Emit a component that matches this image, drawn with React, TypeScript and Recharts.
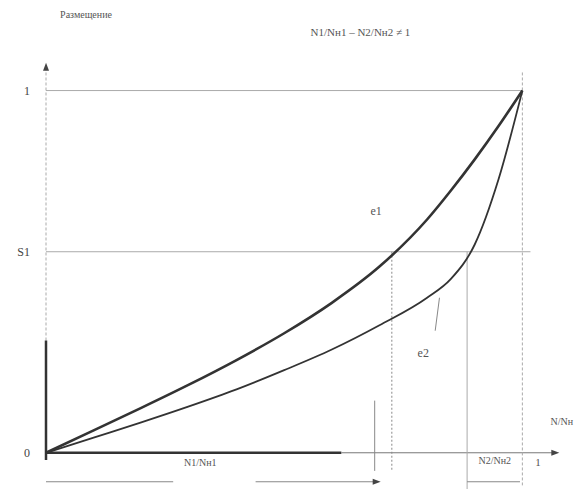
import {
  ComposedChart,
  Line,
  XAxis,
  YAxis,
  ReferenceLine,
  ReferenceDot,
} from "recharts";

// cumulative share (x) and the two curves
const shares = [0, 0.1, 0.2, 0.3, 0.4, 0.5, 0.6, 0.7, 0.8, 0.85, 0.9, 0.95, 1];
const e1Values = [0, 0.062, 0.124, 0.188, 0.256, 0.33, 0.414, 0.514, 0.644, 0.724, 0.81, 0.902, 1];
const e2Values = [0, 0.042, 0.084, 0.128, 0.175, 0.228, 0.285, 0.352, 0.428, 0.48, 0.575, 0.755, 1];

const yTicks = [0, 0.555, 1];
const yTickLabels = ["0", "S1", "1"];

const s1Level = 0.555;
const n1Share = 0.726; // where e1 reaches S1
const n2Share = 0.884; // where e2 reaches S1
const n1Mark = 0.69;

const data = shares.map((x, i) => ({ x, e1: e1Values[i], e2: e2Values[i] }));

const FONT = "'Liberation Serif', 'DejaVu Serif', serif";
const INK = "#333";
const GRID = "#aaa";

const textAt =
  (value: string, anchor: "start" | "middle" | "end" = "middle", size = 11) =>
  (props: any) => (
    <text
      x={props.cx}
      y={props.cy}
      textAnchor={anchor}
      dominantBaseline="middle"
      fontSize={size}
      fontFamily={FONT}
      fill="#555"
    >
      {value}
    </text>
  );

const arrow =
  (dir: "up" | "right" | "left") =>
  (props: any) => {
    const { cx, cy } = props;
    let pts = "";
    if (dir === "up") pts = `${cx},${cy - 6} ${cx - 3},${cy + 2} ${cx + 3},${cy + 2}`;
    if (dir === "right") pts = `${cx + 6},${cy} ${cx - 2},${cy - 3} ${cx - 2},${cy + 3}`;
    if (dir === "left") pts = `${cx - 6},${cy} ${cx + 2},${cy - 3} ${cx + 2},${cy + 3}`;
    return <polygon points={pts} fill="#444" />;
  };

const seg = (x1: number, y1: number, x2: number, y2: number) => [
  { x: x1, y: y1 },
  { x: x2, y: y2 },
];

export default function App() {
  return (
    <div style={{ position: "absolute", left: 0, top: 0, background: "#fff" }}>
      <ComposedChart
        width={576}
        height={489}
        data={data}
        margin={{ top: 0, right: 6, bottom: 0, left: 0 }}
      >
        <XAxis dataKey="x" type="number" domain={[0, 1.1]} hide />
        <YAxis
          type="number"
          domain={[-0.1, 1.25]}
          ticks={yTicks}
          width={46}
          axisLine={false}
          tickLine={false}
          tickMargin={10}
          tick={{ fontSize: 12, fill: "#444", fontFamily: FONT }}
          tickFormatter={(v: number) => yTickLabels[yTicks.indexOf(v)] ?? ""}
          allowDataOverflow
        />

        {/* axes */}
        <ReferenceLine segment={seg(0, 0.31, 0, 1.06)} stroke={GRID} strokeDasharray="3 2" ifOverflow="visible" />
        <ReferenceLine segment={seg(0, -0.02, 0, 0.31)} stroke={INK} strokeWidth={2.5} ifOverflow="visible" />
        <ReferenceLine segment={seg(0, 0, 0.62, 0)} stroke={INK} strokeWidth={2.5} ifOverflow="visible" />
        <ReferenceLine segment={seg(0.62, 0, 1.065, 0)} stroke="#777" ifOverflow="visible" />
        <ReferenceDot x={0} y={1.06} r={0} shape={arrow("up")} ifOverflow="visible" />
        <ReferenceDot x={1.065} y={0} r={0} shape={arrow("right")} ifOverflow="visible" />

        {/* guide lines */}
        <ReferenceLine segment={seg(0, 1, 1, 1)} stroke={GRID} ifOverflow="visible" />
        <ReferenceLine segment={seg(0, s1Level, 1.017, s1Level)} stroke={GRID} ifOverflow="visible" />
        <ReferenceLine segment={seg(1, 1.05, 1, -0.09)} stroke={GRID} strokeDasharray="3 2" ifOverflow="visible" />
        <ReferenceLine segment={seg(n1Share, s1Level, n1Share, -0.05)} stroke="#888" strokeDasharray="2 2" ifOverflow="visible" />
        <ReferenceLine segment={seg(n2Share, s1Level, n2Share, -0.1)} stroke={GRID} ifOverflow="visible" />
        <ReferenceLine segment={seg(n1Mark, 0.144, n1Mark, -0.05)} stroke="#888" ifOverflow="visible" />

        {/* dimension lines */}
        <ReferenceLine segment={seg(0, -0.08, 0.267, -0.08)} stroke="#888" ifOverflow="visible" />
        <ReferenceLine segment={seg(0.44, -0.08, n1Mark, -0.08)} stroke="#888" ifOverflow="visible" />
        <ReferenceDot x={n1Mark} y={-0.08} r={0} shape={arrow("right")} ifOverflow="visible" />
        <ReferenceLine segment={seg(n2Share, -0.08, 0.995, -0.08)} stroke="#888" ifOverflow="visible" />

        {/* e2 leader */}
        <ReferenceLine segment={seg(0.826, 0.428, 0.817, 0.337)} stroke="#888" ifOverflow="visible" />

        <Line dataKey="e2" type="monotone" stroke={INK} strokeWidth={1.8} dot={false} isAnimationActive={false} />
        <Line dataKey="e1" type="monotone" stroke={INK} strokeWidth={2.6} dot={false} isAnimationActive={false} />

        {/* labels */}
        <ReferenceDot x={0.084} y={1.207} r={0} shape={textAt("Размещение", "middle", 10)} ifOverflow="visible" />
        <ReferenceDot x={0.66} y={1.157} r={0} shape={textAt("N1/Nн1 – N2/Nн2 ≠ 1", "middle", 11)} ifOverflow="visible" />
        <ReferenceDot x={0.693} y={0.663} r={0} shape={textAt("e1", "middle", 12)} ifOverflow="visible" />
        <ReferenceDot x={0.792} y={0.273} r={0} shape={textAt("e2", "middle", 12)} ifOverflow="visible" />
        <ReferenceDot x={0.324} y={-0.03} r={0} shape={textAt("N1/Nн1", "middle", 10)} ifOverflow="visible" />
        <ReferenceDot x={0.942} y={-0.025} r={0} shape={textAt("N2/Nн2", "middle", 10)} ifOverflow="visible" />
        <ReferenceDot x={1.033} y={-0.03} r={0} shape={textAt("1", "middle", 11)} ifOverflow="visible" />
        <ReferenceDot x={1.059} y={0.083} r={0} shape={textAt("N/Nн", "start", 10)} ifOverflow="visible" />
      </ComposedChart>
    </div>
  );
}
